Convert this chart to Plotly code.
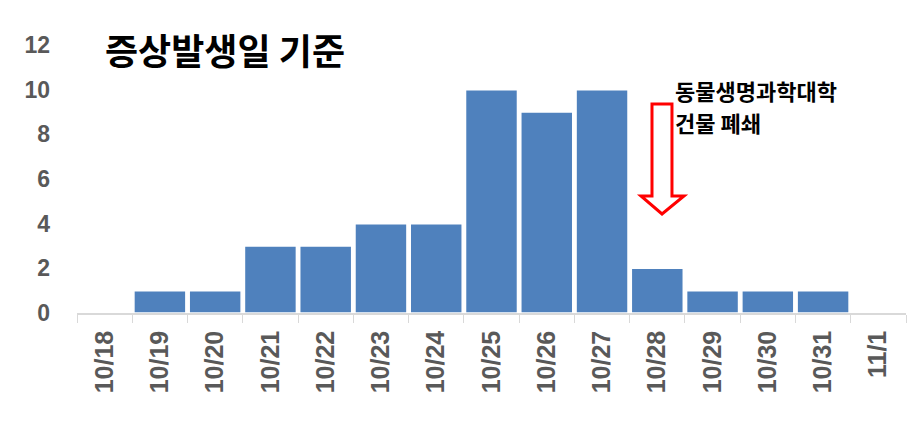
import plotly.graph_objects as go

categories = ["10/18", "10/19", "10/20", "10/21", "10/22", "10/23", "10/24", "10/25",
              "10/26", "10/27", "10/28", "10/29", "10/30", "10/31", "11/1"]
cases = [0, 1, 1, 3, 3, 4, 4, 10, 9, 10, 2, 1, 1, 1, 0]
y_ticks = [0, 2, 4, 6, 8, 10, 12]

title_text = "증상발생일 기준"
note_lines = ["동물생명과학대학", "건물 폐쇄"]

# page has an 8px body margin
OFF = 8
W, H = 920 - OFF, 421 - OFF
PL, PR, PT, PB = 77, 906, 45, 313  # plot area on the page
L, T = PL - OFF, PT - OFF
R, B = 920 - PR, 421 - PB
pw, ph = PR - PL, PB - PT

def px(x):
    return (x - PL) / pw

def py(y):
    return (PB - y) / ph

fig = go.Figure(go.Bar(
    x=categories, y=cases,
    marker=dict(color="#4F81BD", line=dict(color="white", width=1.5)),
))

# hollow down arrow
pts = [(652, 104), (672, 104), (672, 196), (684, 196), (662, 214), (641, 196), (652, 196)]
path = "M " + " L ".join(f"{px(a):.4f},{py(b):.4f}" for a, b in pts) + " Z"
fig.add_shape(type="path", xref="paper", yref="paper", path=path,
              line=dict(color="#FF0000", width=3), fillcolor="white")

for line, yc in zip(note_lines, [90, 122]):
    fig.add_annotation(x=px(673), y=py(yc), xref="paper", yref="paper",
                       text=line, showarrow=False, xanchor="left", yanchor="middle",
                       align="left",
                       font=dict(family="Noto Sans CJK KR", size=22, color="black", weight="bold"))

fig.add_annotation(x=px(103), y=py(49), xref="paper", yref="paper",
                   text=title_text, showarrow=False, xanchor="left", yanchor="middle",
                   font=dict(family="Noto Sans CJK KR", size=36, color="black", weight="bold"))

fig.update_layout(
    width=W, height=H,
    margin=dict(l=L, r=R, t=T, b=B, autoexpand=False),
    plot_bgcolor="white", paper_bgcolor="white",
    bargap=0.06,
    showlegend=False,
)
fig.update_xaxes(
    type="category", automargin=False,
    tickangle=-90,
    tickfont=dict(family="Liberation Sans", size=25, color="#595959", weight="bold"),
    showline=True, linecolor="#D9D9D9", linewidth=1.5,
    ticks="outside", tickson="boundaries", ticklen=8, tickcolor="#D9D9D9",
    showgrid=False, ticklabelstandoff=6,
)
fig.update_yaxes(
    range=[0, 12], tickvals=y_ticks, automargin=False,
    tickfont=dict(family="Liberation Sans", size=23, color="#595959", weight="bold"),
    showgrid=False, zeroline=False, showline=False,
    ticklabelstandoff=26,
)

fig.write_html("out.html")
